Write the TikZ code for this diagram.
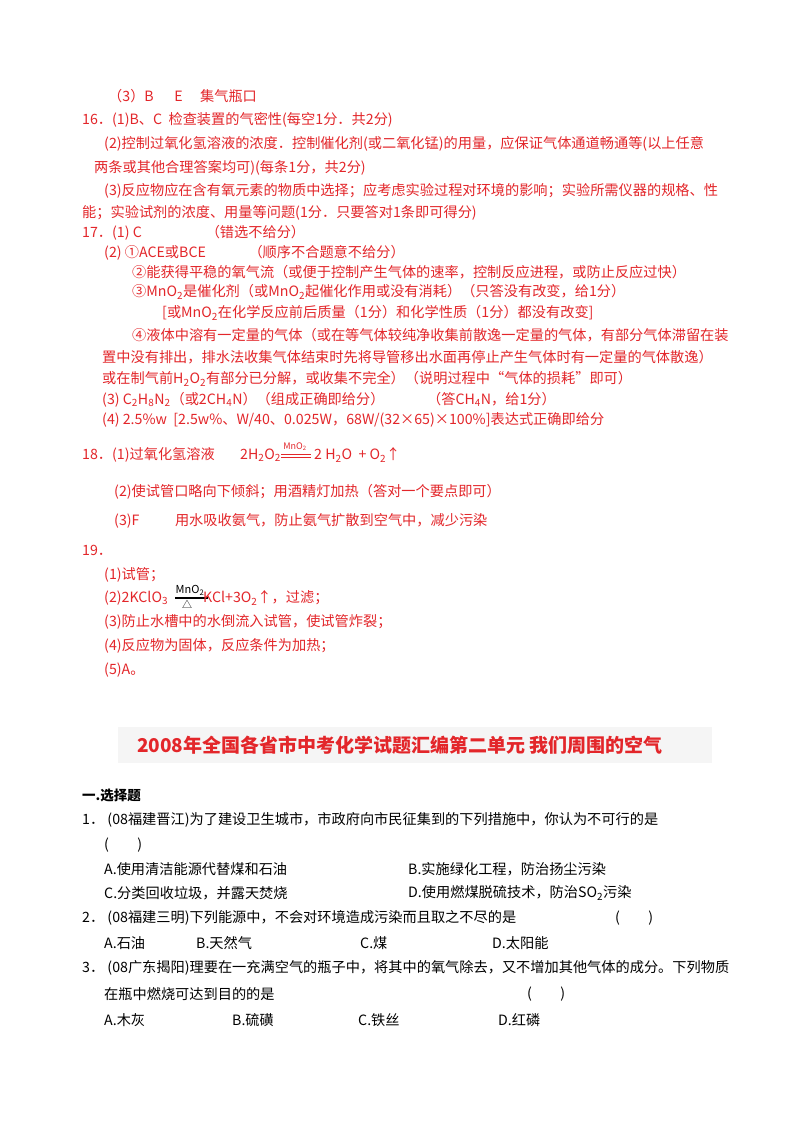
\documentclass[tikz,border=0pt]{standalone}
\usepackage{fontspec}
\setmainfont{Noto Sans CJK SC}
\definecolor{ans}{HTML}{E3262A}
\newcommand{\sbs}[1]{\textsubscript{#1}}
\begin{document}
\begin{tikzpicture}[x=1pt,y=-1pt,
 t/.style={anchor=west,inner sep=0pt,text=ans,font=\fontsize{14.2}{16}\selectfont},
 k/.style={anchor=west,inner sep=0pt,text=black,font=\fontsize{14.2}{16}\selectfont}]
\useasboundingbox[fill=white] (0,0) rectangle (800,1132);
\node[t] (a1) at (108,96) {（3）B\quad\ \ E\quad\ 集气瓶口};
\node[t] (a2) at (82,120) {16．(1)B、C\ \ 检查装置的气密性(每空1分．共2分)};
\node[t] (a3) at (104,144) {(2)控制过氧化氢溶液的浓度．控制催化剂(或二氧化锰)的用量，应保证气体通道畅通等(以上任意};
\node[t] (a4) at (94,168) {两条或其他合理答案均可)(每条1分，共2分)};
\node[t] (a5) at (104,191) {(3)反应物应在含有氧元素的物质中选择；应考虑实验过程对环境的影响；实验所需仪器的规格、性};
\node[t] (a6) at (82,213) {能；实验试剂的浓度、用量等问题(1分．只要答对1条即可得分)};
\node[t] (a7) at (82,233) {17．(1)\ C\hspace{4.5em}（错选不给分）};
\node[t] (a8) at (104,253) {(2)\ ①ACE或BCE\hspace{3em}（顺序不合题意不给分）};
\node[t] (a9) at (132,272) {②能获得平稳的氧气流（或便于控制产生气体的速率，控制反应进程，或防止反应过快）};
\node[t] (a10) at (132,292) {③MnO\sbs{2}是催化剂（或MnO\sbs{2}起催化作用或没有消耗）（只答没有改变，给1分）};
\node[t] (a11) at (162,313) {[或MnO\sbs{2}在化学反应前后质量（1分）和化学性质（1分）都没有改变]};
\node[t] (a12) at (132,335) {④液体中溶有一定量的气体（或在等气体较纯净收集前散逸一定量的气体，有部分气体滞留在装};
\node[t] (a13) at (102,357) {置中没有排出，排水法收集气体结束时先将导管移出水面再停止产生气体时有一定量的气体散逸）};
\node[t] (a14) at (102,379) {或在制气前H\sbs{2}O\sbs{2}有部分已分解，或收集不完全）（说明过程中“气体的损耗”即可）};
\node[t] (a15) at (102,400) {(3)\ C\sbs{2}H\sbs{8}N\sbs{2}（或2CH\sbs{4}N）（组成正确即给分）\hspace{3em}（答CH\sbs{4}N，给1分）};
\node[t] (a16) at (102,420) {(4)\ 2.5\%w\ \ [2.5w\%、W/40、0.025W，68W/(32×65)×100\%]表达式正确即给分};
\node[t] (b1) at (82,455) {18．(1)过氧化氢溶液};
\node[t] (b2) at (240,455) {2H\sbs{2}O\sbs{2}};
\node[anchor=south,inner sep=1pt,text=ans,font=\fontsize{9}{10}\selectfont] (b3) at (295,452) {MnO\sbs{2}};
\draw[ans,line width=0.6pt] (281,454) -- (311,454) (281,457) -- (311,457);
\node[t] (b4) at (314,455) {2 H\sbs{2}O\ \ + O\sbs{2}↑};
\node[t] (b5) at (114,492) {(2)使试管口略向下倾斜；用酒精灯加热（答对一个要点即可）};
\node[t] (b6) at (114,521) {(3)F\hspace{2.5em}用水吸收氨气，防止氨气扩散到空气中，减少污染};
\node[t] (c1) at (82,550) {19．};
\node[t] (c2) at (104,575) {(1)试管；};
\node[t] (c3) at (104,598) {(2)2KClO\sbs{3}};
\node[anchor=south,inner sep=0pt,text=black,font=\fontsize{11}{12}\selectfont] (c4) at (190,596) {MnO\sbs{2}};
\draw[black,line width=2pt] (175,598) -- (208,598);
\node[anchor=north,inner sep=0pt,text=black,font=\fontsize{10}{11}\selectfont] (c5) at (187,600) {△};
\node[t] (c6) at (203,598) {KCl+3O\sbs{2}↑，过滤；};
\node[t] (c7) at (104,622) {(3)防止水槽中的水倒流入试管，使试管炸裂；};
\node[t] (c8) at (104,646) {(4)反应物为固体，反应条件为加热；};
\node[t] (c9) at (104,670) {(5)A。};
\fill[black!4] (118,727) rectangle (712,763);
\node[inner sep=0pt,text=ans,font=\fontsize{19}{21}\bfseries\selectfont] (d0) at (400,745) {2008年全国各省市中考化学试题汇编第二单元\ 我们周围的空气};
\node[k,font=\fontsize{13.5}{15}\bfseries\selectfont] (d1) at (82,795) {一.选择题};
\node[k] (d2) at (82,820) {1．\ (08福建晋江)为了建设卫生城市，市政府向市民征集到的下列措施中，你认为不可行的是};
\node[k] (d3) at (104,845) {(\qquad)};
\node[k] (d4) at (104,869) {A.使用清洁能源代替煤和石油};
\node[k] (d5) at (408,869) {B.实施绿化工程，防治扬尘污染};
\node[k] (d6) at (104,893) {C.分类回收垃圾，并露天焚烧};
\node[k] (d7) at (408,893) {D.使用燃煤脱硫技术，防治SO\sbs{2}污染};
\node[k] (d8) at (82,918) {2．\ (08福建三明)下列能源中，不会对环境造成污染而且取之不尽的是};
\node[k] (d9) at (615,918) {(\qquad)};
\node[k] (d10) at (104,943) {A.石油};
\node[k] (d11) at (196,943) {B.天然气};
\node[k] (d12) at (360,943) {C.煤};
\node[k] (d13) at (492,943) {D.太阳能};
\node[k] (d14) at (82,968) {3．\ (08广东揭阳)理要在一充满空气的瓶子中，将其中的氧气除去，又不增加其他气体的成分。下列物质};
\node[k] (d15) at (104,994) {在瓶中燃烧可达到目的的是};
\node[k] (d16) at (527,994) {(\qquad)};
\node[k] (d17) at (104,1020) {A.木灰};
\node[k] (d18) at (232,1020) {B.硫磺};
\node[k] (d19) at (358,1020) {C.铁丝};
\node[k] (d20) at (498,1020) {D.红磷};
\end{tikzpicture}
\end{document}
